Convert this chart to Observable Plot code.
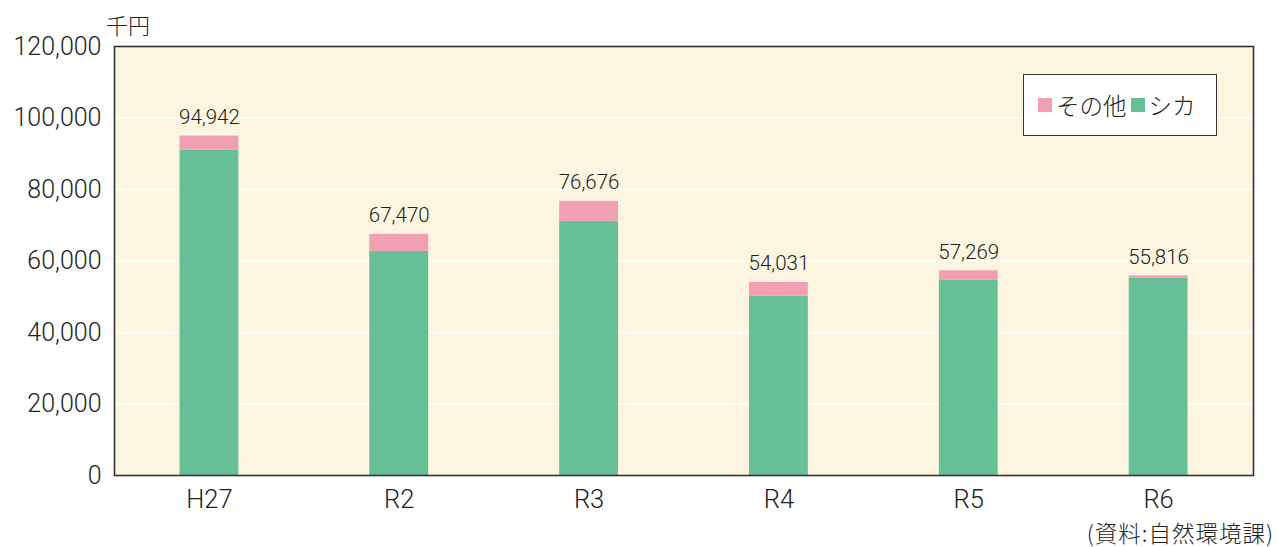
<!DOCTYPE html>
<html>
<head>
<meta charset="utf-8">
<script src="https://cdn.jsdelivr.net/npm/d3@7"></script>
<script src="https://cdn.jsdelivr.net/npm/@observablehq/plot@0.6"></script>
<style>
  html, body { margin: 0; padding: 0; background: #ffffff; }
  body { font-family: "Roboto", "Noto Sans CJK JP", sans-serif; color: #222; }
  #wrap { position: relative; width: 1278px; height: 547px; overflow: hidden; }
  #unit { position: absolute; left: 106px; top: 8px; font-size: 22px; font-weight: 300; font-family: "Noto Sans CJK JP", sans-serif; color: #222; }
  #legend { position: absolute; left: 1023px; top: 74px; width: 194px; height: 62px; background: #fff; border: 1.6px solid #333;
            display: flex; align-items: center; padding-left: 14px; box-sizing: border-box; font-family: "Noto Sans CJK JP", sans-serif; font-size: 23.5px; font-weight: 300; color: #222; }
  #legend .sw { display: inline-block; width: 14px; height: 14px; margin-right: 4px; }
  #legend .item { display: flex; align-items: center; margin-right: 4px; }
  #caption { position: absolute; right: 4px; top: 516px; font-size: 22.5px; letter-spacing: 1px; font-weight: 300; font-family: "Noto Sans CJK JP", sans-serif; color: #222; white-space: nowrap; }
  #chart { position: absolute; left: 0; top: 0; }
</style>
</head>
<body>
<div id="wrap">
  <div id="chart"></div>
  <div id="unit">千円</div>
  <div id="legend"></div>
  <div id="caption">(資料:自然環境課)</div>
</div>
<script>
// ---- data ----
const categories = ["H27", "R2", "R3", "R4", "R5", "R6"];
const totals = [94942, 67470, 76676, 54031, 57269, 55816];
const shika = [91000, 62700, 71100, 50150, 54600, 55250];
const other = [3942, 4770, 5576, 3881, 2669, 566];
const seriesNames = ["その他", "シカ"];
const seriesColors = ["#f19fb5", "#67bf97"];
const yTicks = [0, 20000, 40000, 60000, 80000, 100000, 120000];

const rows = [];
categories.forEach((c, i) => {
  rows.push({cat: c, series: "シカ", value: shika[i]});
  rows.push({cat: c, series: "その他", value: other[i]});
});
const totalRows = categories.map((c, i) => ({cat: c, total: totals[i]}));

const fmt = d3.format(",");

const chart = Plot.plot({
  width: 1278,
  height: 547,
  marginLeft: 114,
  marginRight: 25,
  marginTop: 46,
  marginBottom: 72,
  style: { fontFamily: "Roboto, 'Noto Sans CJK JP', sans-serif", fontWeight: 300, color: "#222", background: "transparent" },
  x: { domain: categories, paddingInner: 0.69, paddingOuter: 0.345, round: false, label: null },
  y: { domain: [0, 120000], label: null },
  color: { domain: seriesNames, range: seriesColors },
  marks: [
    Plot.frame({ fill: "#fcf6e0", stroke: "none" }),
    Plot.ruleY(yTicks.filter(d => d > 0 && d < 120000), { stroke: "#ffffff", strokeWidth: 1.5 }),
    Plot.barY(rows, { x: "cat", y: "value", fill: "series", order: ["シカ", "その他"] }),
    Plot.text(totalRows, { x: "cat", y: "total", text: d => fmt(d.total), lineAnchor: "bottom", dy: -12, fontSize: 20.5, fill: "#222" }),
    Plot.axisY({ ticks: yTicks, tickFormat: fmt, tickSize: 0, tickPadding: 13, fontSize: 25, label: null }),
    Plot.axisX({ tickSize: 0, tickPadding: 14, fontSize: 25.5, label: null }),
    Plot.frame({ stroke: "#333", strokeWidth: 1.6 })
  ]
});
document.getElementById("chart").appendChild(chart);

const legend = document.getElementById("legend");
seriesNames.forEach((name, i) => {
  const item = document.createElement("span");
  item.className = "item";
  const sw = document.createElement("span");
  sw.className = "sw";
  sw.style.background = seriesColors[i];
  item.appendChild(sw);
  item.appendChild(document.createTextNode(name));
  legend.appendChild(item);
});
</script>
</body>
</html>
